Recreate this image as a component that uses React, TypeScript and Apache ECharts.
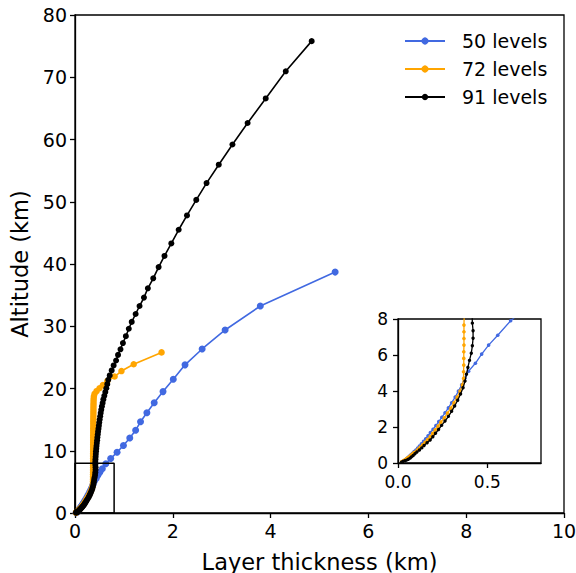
import React, { useEffect, useRef } from "react";
import * as echarts from "echarts";

// ---------- data (layer thickness km, altitude km) ----------
const seriesNames = ["50 levels", "72 levels", "91 levels"];
const seriesColors = ["#4169E1", "#FFA500", "#000000"];

const l50Thickness = [
  0.022, 0.028, 0.033, 0.038, 0.043, 0.048, 0.054, 0.06, 0.066, 0.073, 0.081, 0.09, 0.1, 0.11, 0.12,
  0.131, 0.143, 0.155, 0.168, 0.181, 0.196, 0.212, 0.228, 0.245, 0.263, 0.282, 0.3, 0.32, 0.338, 0.356,
  0.374, 0.395, 0.433, 0.468, 0.507, 0.558, 0.63, 0.73, 0.86, 0.99, 1.12, 1.24, 1.34, 1.47, 1.62, 1.8,
  2.01, 2.25, 2.6, 3.07, 3.79, 5.32,
];
const l50Altitude = [
  0.06, 0.085, 0.115, 0.15, 0.19, 0.235, 0.285, 0.34, 0.4, 0.47, 0.545, 0.63, 0.72, 0.825, 0.94,
  1.065, 1.2, 1.35, 1.51, 1.685, 1.875, 2.08, 2.3, 2.54, 2.79, 3.06, 3.35, 3.66, 3.99, 4.34,
  4.71, 5.1, 5.54, 6.05, 6.55, 7.1, 7.9, 8.75, 9.75, 10.85, 12.05, 13.3, 14.65, 16.1, 17.7, 19.5,
  21.5, 23.8, 26.35, 29.4, 33.25, 38.7,
];

const l72Thickness = [
  0.02, 0.024, 0.028, 0.033, 0.038, 0.044, 0.05, 0.057, 0.064, 0.072, 0.08, 0.089, 0.103, 0.113, 0.124,
  0.138, 0.151, 0.165, 0.18, 0.194, 0.208, 0.224, 0.24, 0.259, 0.277, 0.296, 0.313, 0.331, 0.347, 0.36,
  0.367, 0.367, 0.368, 0.368, 0.368, 0.369, 0.369, 0.369, 0.369, 0.37, 0.37, 0.37, 0.37, 0.37, 0.371,
  0.371, 0.371, 0.371, 0.372, 0.372, 0.372, 0.372, 0.373, 0.373, 0.373, 0.374, 0.374, 0.374, 0.375,
  0.375, 0.376, 0.376, 0.377, 0.377, 0.378, 0.379, 0.38, 0.382, 0.386, 0.4, 0.44, 0.5, 0.57, 0.66,
  0.81, 0.95, 1.2, 1.77,
];
const l72Altitude = [
  0.06, 0.08, 0.105, 0.135, 0.17, 0.21, 0.255, 0.305, 0.36, 0.425, 0.5, 0.58, 0.67, 0.77, 0.885,
  1.01, 1.15, 1.3, 1.465, 1.645, 1.84, 2.05, 2.27, 2.51, 2.77, 3.05, 3.35, 3.66, 3.99, 4.34,
  4.7, 5.07, 5.44, 5.81, 6.18, 6.55, 6.92, 7.29, 7.66, 8.03, 8.4, 8.77, 9.14, 9.51, 9.88,
  10.25, 10.62, 10.99, 11.36, 11.73, 12.1, 12.47, 12.84, 13.21, 13.58, 13.95, 14.32, 14.69, 15.06,
  15.43, 15.8, 16.17, 16.54, 16.91, 17.28, 17.65, 18.02, 18.39, 18.76, 19.15, 19.57, 20.04, 20.57, 21.18,
  21.92, 22.8, 23.9, 25.8,
];

const l91Thickness = [
  0.02, 0.028, 0.038, 0.048, 0.058, 0.068, 0.075, 0.085, 0.095, 0.106, 0.12, 0.133, 0.146, 0.163, 0.18,
  0.195, 0.21, 0.227, 0.244, 0.263, 0.282, 0.3, 0.317, 0.334, 0.35, 0.364, 0.375, 0.383, 0.391, 0.4,
  0.41, 0.416, 0.42, 0.42, 0.416, 0.415, 0.418, 0.422, 0.426, 0.43, 0.435, 0.44, 0.446, 0.452, 0.458,
  0.465, 0.472, 0.48, 0.488, 0.496, 0.505, 0.515, 0.525, 0.537, 0.55, 0.565, 0.58, 0.6, 0.62, 0.64,
  0.66, 0.68, 0.71, 0.75, 0.79, 0.84, 0.88, 0.93, 0.98, 1.04, 1.1, 1.16, 1.24, 1.32, 1.41,
  1.49, 1.6, 1.71, 1.83, 1.97, 2.12, 2.29, 2.48, 2.69, 2.94, 3.22, 3.53, 3.9, 4.31, 4.84,
];
const l91Altitude = [
  0.05, 0.08, 0.12, 0.16, 0.21, 0.27, 0.34, 0.42, 0.51, 0.61, 0.72, 0.84, 0.97, 1.12, 1.28,
  1.46, 1.65, 1.86, 2.09, 2.33, 2.59, 2.87, 3.17, 3.49, 3.83, 4.18, 4.55, 4.93, 5.31, 5.7,
  6.1, 6.51, 6.93, 7.35, 7.77, 8.19, 8.61, 9.04, 9.47, 9.9, 10.34, 10.78, 11.23, 11.68, 12.14,
  12.6, 13.07, 13.55, 14.03, 14.52, 15.02, 15.53, 16.05, 16.58, 17.12, 17.67, 18.24, 18.82, 19.42, 20.04,
  20.7, 21.4, 22.1, 22.9, 23.7, 24.5, 25.4, 26.3, 27.3, 28.4, 29.6, 30.7, 31.97, 33.25, 34.6,
  36.1, 37.7, 39.5, 41.3, 43.3, 45.5, 47.8, 50.3, 53.0, 55.95, 59.2, 62.65, 66.6, 70.95, 75.8,
];

// main axes
const mainXMax = 10;
const mainXInterval = 2;
const mainYMax = 80;
const mainYInterval = 10;
// inset (zoom) limits
const insetXMax = 0.8;
const insetXTicks = [0, 0.5];
const insetYMax = 8;
const insetYInterval = 2;

const xTitle = "Layer thickness (km)";
const yTitle = "Altitude (km)";

const FONT = "DejaVu Sans";

function pairs(xs: number[], ys: number[]) {
  return xs.map((x, i) => [x, ys[i]]);
}

export default function App() {
  const ref = useRef<HTMLDivElement>(null);

  useEffect(() => {
    if (!ref.current) return;
    const chart = echarts.init(ref.current, undefined, { renderer: "svg" });

    const datasets = [
      pairs(l50Thickness, l50Altitude),
      pairs(l72Thickness, l72Altitude),
      pairs(l91Thickness, l91Altitude),
    ];
    const mainSizes = [7, 6.5, 6];
    const insetSizes = [3.6, 3.6, 3.4];

    const axisLine = { show: true, onZero: false, lineStyle: { color: "#000", width: 1.3 } };
    const axisTick = { show: true, length: 5, lineStyle: { color: "#000", width: 1.3 } };
    const labelStyle = { color: "#000", fontSize: 19, fontFamily: FONT };
    const insetLabelStyle = { color: "#000", fontSize: 17, fontFamily: FONT };

    const series: any[] = [];
    datasets.forEach((d, i) => {
      series.push({
        type: "line",
        name: seriesNames[i],
        xAxisIndex: 0,
        yAxisIndex: 0,
        data: d,
        symbol: "circle",
        symbolSize: mainSizes[i],
        showSymbol: true,
        lineStyle: { color: seriesColors[i], width: 1.6 },
        itemStyle: { color: seriesColors[i], borderWidth: 0 },
        z: 2 + i,
        silent: true,
      });
    });
    // zoom box on main axes, from inset limits
    series.push({
      type: "line",
      xAxisIndex: 0,
      yAxisIndex: 0,
      data: [
        [0, 0],
        [insetXMax, 0],
        [insetXMax, insetYMax],
        [0, insetYMax],
        [0, 0],
      ],
      symbol: "none",
      lineStyle: { color: "#000", width: 1.5 },
      z: 6,
      silent: true,
    });
    datasets.forEach((d, i) => {
      series.push({
        type: "line",
        name: seriesNames[i] + " (inset)",
        xAxisIndex: 1,
        yAxisIndex: 1,
        data: d,
        symbol: "circle",
        symbolSize: insetSizes[i],
        showSymbol: true,
        clip: true,
        lineStyle: { color: seriesColors[i], width: 1.3 },
        itemStyle: { color: seriesColors[i], borderWidth: 0 },
        z: 12 + i,
        silent: true,
      });
    });

    const legendRows = [41, 69, 97];
    const graphic: any[] = [];
    seriesNames.forEach((n, i) => {
      graphic.push({
        type: "line",
        shape: { x1: 405, y1: legendRows[i], x2: 445, y2: legendRows[i] },
        style: { stroke: seriesColors[i], lineWidth: 1.8 },
      });
      graphic.push({
        type: "circle",
        shape: { cx: 425, cy: legendRows[i], r: i === 2 ? 3.2 : 3.6 },
        style: { fill: seriesColors[i] },
      });
      graphic.push({
        type: "text",
        x: 462,
        y: legendRows[i],
        style: {
          text: n,
          fill: "#000",
          fontSize: 19,
          fontFamily: FONT,
          verticalAlign: "middle",
          align: "left",
        },
      });
    });

    chart.setOption({
      animation: false,
      backgroundColor: "#fff",
      textStyle: { fontFamily: FONT },
      grid: [
        {
          left: 75,
          right: 12,
          top: 15,
          bottom: 60,
          show: true,
          borderColor: "#000",
          borderWidth: 1.3,
          outerBoundsMode: "none",
        },
        {
          left: 398,
          right: 35,
          top: 319,
          bottom: 110,
          show: true,
          borderColor: "#000",
          borderWidth: 1.3,
          backgroundColor: "#fff",
          outerBoundsMode: "none",
          z: 10,
        },
      ],
      xAxis: [
        {
          gridIndex: 0,
          type: "value",
          min: 0,
          max: mainXMax,
          interval: mainXInterval,
          axisLine,
          axisTick,
          splitLine: { show: false },
          axisLabel: { ...labelStyle, margin: 8 },
          name: xTitle,
          nameLocation: "middle",
          nameGap: 37,
          nameTextStyle: { color: "#000", fontSize: 22.5, fontFamily: FONT },
        },
        {
          gridIndex: 1,
          type: "value",
          min: 0,
          max: insetXMax,
          axisLine,
          axisTick: { ...axisTick, customValues: insetXTicks },
          splitLine: { show: false },
          axisLabel: {
            ...insetLabelStyle,
            margin: 10,
            customValues: insetXTicks,
            formatter: (v: number) => v.toFixed(1),
          },
          z: 15,
        },
      ],
      yAxis: [
        {
          gridIndex: 0,
          type: "value",
          min: 0,
          max: mainYMax,
          interval: mainYInterval,
          axisLine,
          axisTick,
          splitLine: { show: false },
          axisLabel: { ...labelStyle, margin: 8 },
          name: yTitle,
          nameLocation: "middle",
          nameGap: 42,
          nameRotate: 90,
          nameTextStyle: { color: "#000", fontSize: 22.5, fontFamily: FONT },
        },
        {
          gridIndex: 1,
          type: "value",
          min: 0,
          max: insetYMax,
          interval: insetYInterval,
          axisLine,
          axisTick,
          splitLine: { show: false },
          axisLabel: { ...insetLabelStyle, margin: 10 },
          z: 15,
        },
      ],
      series,
      graphic,
    });

    return () => chart.dispose();
  }, []);

  return (
    <div
      ref={ref}
      style={{ position: "fixed", left: 0, top: 0, width: 576, height: 573, background: "#fff" }}
    />
  );
}
